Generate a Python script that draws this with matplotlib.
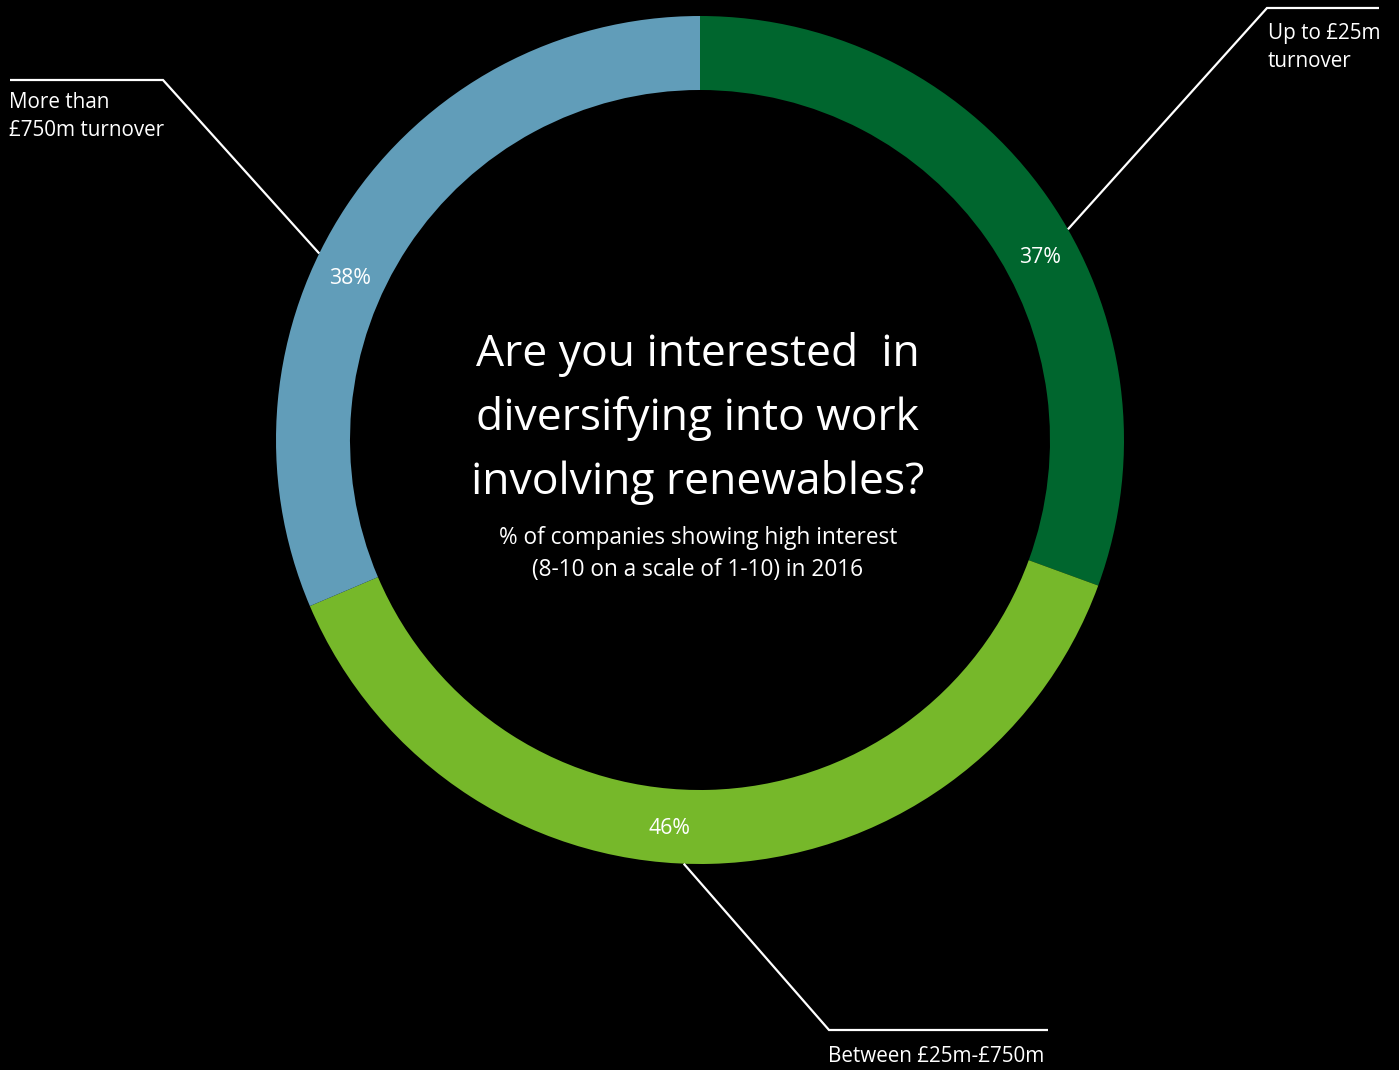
import matplotlib
matplotlib.use("Agg")
import matplotlib.pyplot as plt
import numpy as np

# Survey shares of companies showing high interest, by turnover band
groups = ["Up to £25m\nturnover", "Between £25m-£750m", "More than\n£750m turnover"]
shares = [37, 46, 38]
colors = ["#00662E", "#76B82A", "#619DB9"]

title = "Are you interested  in\ndiversifying into work\ninvolving renewables?"
subtitle = "% of companies showing high interest\n(8-10 on a scale of 1-10) in 2016"

W, H = 1399, 1070
plt.rcParams["font.family"] = ["Open Sans", "DejaVu Sans"]

fig = plt.figure(figsize=(W / 100, H / 100), dpi=100, facecolor="black")
ax = fig.add_axes([0, 0, 1, 1])
ax.set_facecolor("black")

cx, cy, R, ring = 700, H - 440, 424, 74

wedges, _ = ax.pie(shares, colors=colors, startangle=90, counterclock=False,
                   center=(cx, cy), radius=R,
                   wedgeprops=dict(width=ring, linewidth=0))

# angle (deg) of each value label on the ring and of each leader line start
label_angles = [28.5, -94.5, 154.9]
leader_angles = [29.8, -92.2, 153.9]
# elbow and end points of the leader lines (figure pixels, y up)
elbows = [(1267, H - 8), (829, H - 1030), (163, H - 80)]
ends = [1379, 1048, 10]
# group label anchors (left, top)
text_pos = [(1268, H - 23), (828, H - 1046), (9, H - 92)]

rm = R - ring / 2
for val, la, lda, (ex, ey), xe, (tx, ty), name in zip(
        shares, label_angles, leader_angles, elbows, ends, text_pos, groups):
    t = np.deg2rad(la)
    ax.text(cx + rm * np.cos(t), cy + rm * np.sin(t), f"{val}%",
            color="white", fontsize=15.3, ha="center", va="center_baseline")
    t2 = np.deg2rad(lda)
    sx, sy = cx + R * np.cos(t2), cy + R * np.sin(t2)
    ax.plot([sx, ex, xe], [sy, ey, ey], color="white", lw=1.6,
            solid_joinstyle="miter", solid_capstyle="butt")
    ax.text(tx, ty, name, color="white", fontsize=14.9, ha="left", va="top",
            linespacing=1.45)

ax.text(cx - 2, H - 332, title, color="white", fontsize=32, ha="center",
        va="top", linespacing=1.56)
ax.text(cx - 2, H - 526, subtitle, color="white", fontsize=16.3, ha="center",
        va="top", linespacing=1.44)

ax.set_xlim(0, W)
ax.set_ylim(0, H)
ax.set_aspect("equal")
ax.axis("off")

fig.savefig("out.png", dpi=100, facecolor="black")
